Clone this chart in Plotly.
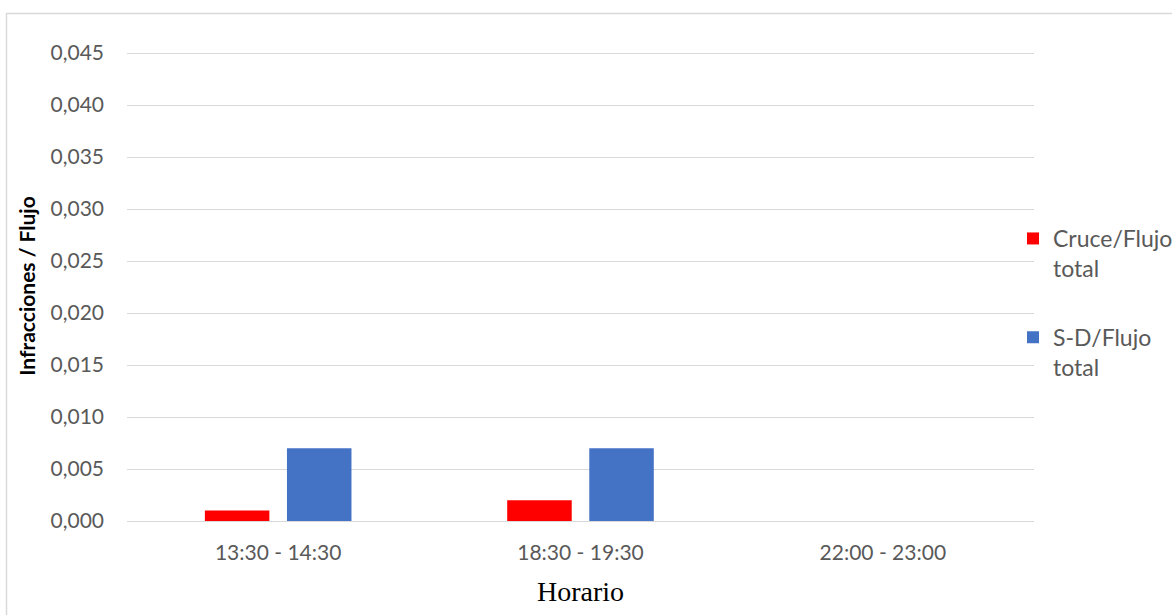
import plotly.graph_objects as go

# Ratio of infractions to total traffic flow by time slot
horarios = ["13:30 - 14:30", "18:30 - 19:30", "22:00 - 23:00"]
cruce_flujo = [0.001, 0.002, 0.0]
sd_flujo = [0.007, 0.007, 0.0]

serie_nombres = ["Cruce/Flujo<br>total", "S-D/Flujo<br>total"]
serie_colores = ["#FF0000", "#4472C4"]

W, H = 1172, 615
ML, MR, MT, MB = 127, 138, 51, 94
pw, ph = W - ML - MR, H - MT - MB
# a little headroom above 0,045 so its gridline is kept
y_max = 0.045 * ph / (ph - 2)

fig = go.Figure()
for nombre, valores, color, grupo in zip(serie_nombres, [cruce_flujo, sd_flujo],
                                         serie_colores, ["a", "b"]):
    fig.add_trace(go.Bar(x=horarios, y=valores, name=nombre, marker_color=color,
                         marker_line_width=0, legendgroup=grupo))

tick_font = dict(family="Lato", size=21, color="#595959")

fig.update_layout(
    width=W, height=H,
    margin=dict(l=ML, r=MR, t=MT, b=MB, autoexpand=False),
    paper_bgcolor="white", plot_bgcolor="white",
    separators=",.",
    barmode="group", bargap=0.457, bargroupgap=0.214,
    showlegend=True,
    legend=dict(x=(1013 - ML) / pw, y=1 - (217 - MT) / ph, xanchor="left", yanchor="top",
                font=dict(family="Lato", size=23, color="#595959"),
                valign="top", tracegroupgap=36, bgcolor="rgba(0,0,0,0)"),
    xaxis=dict(tickfont=tick_font, showgrid=False, showline=False, ticks="",
               ticklabelstandoff=17,
               title=dict(text="Horario", standoff=18,
                          font=dict(family="Liberation Serif", size=28, color="black"))),
    yaxis=dict(range=[0, y_max], dtick=0.005, tick0=0, tickformat=".3f",
               tickfont=tick_font, showgrid=True, gridcolor="#D9D9D9", gridwidth=1,
               zeroline=True, zerolinecolor="#D9D9D9", zerolinewidth=1,
               showline=False, ticks="", ticklabelstandoff=22,
               title=dict(text="<b>Infracciones / Flujo</b>", standoff=9,
                          font=dict(family="Lato", size=21, color="black"))),
)

# outer chart frame
fig.add_shape(type="rect", xref="paper", yref="paper",
              x0=(6.5 - ML) / pw, x1=(1200 - ML) / pw,
              y0=-(700 - MT - ph) / ph, y1=1 + (MT - 13.5) / ph,
              line=dict(color="#D9D9D9", width=1.5), fillcolor="rgba(0,0,0,0)", layer="below")

fig.write_html("out.html")
